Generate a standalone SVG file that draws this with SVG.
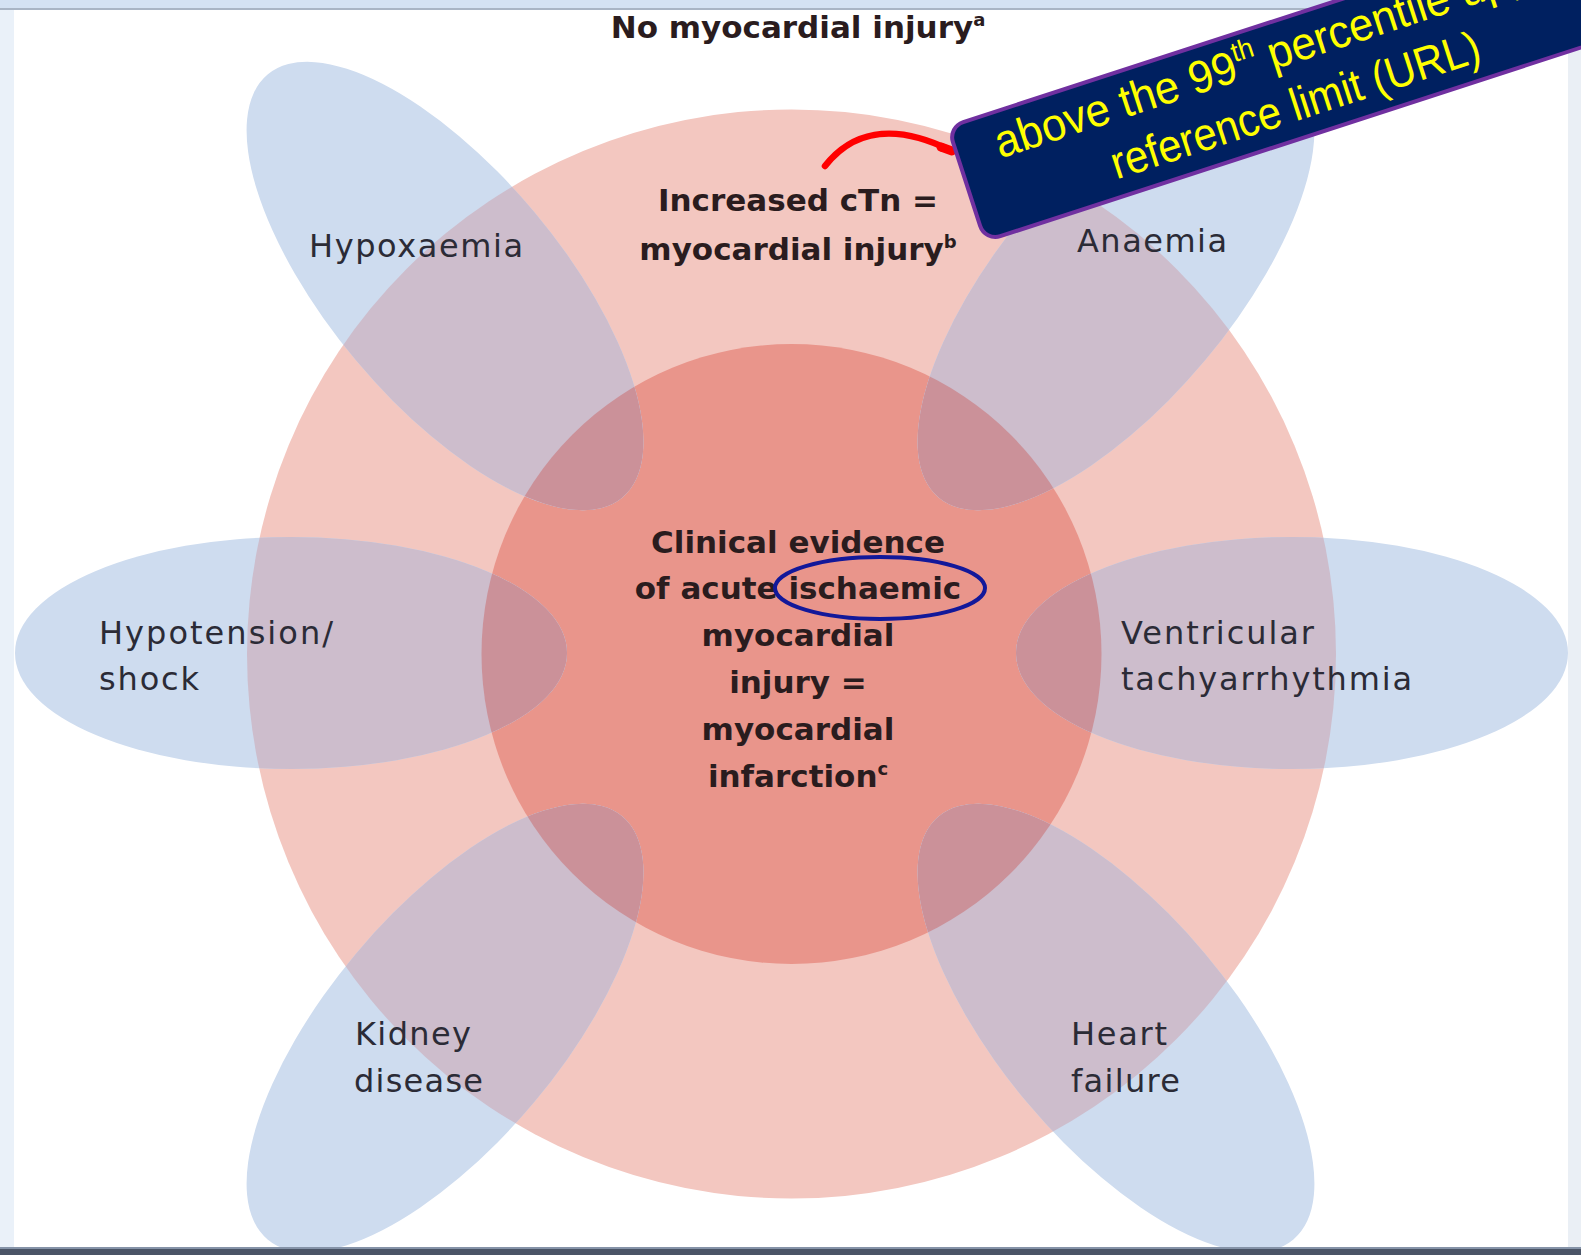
<svg xmlns="http://www.w3.org/2000/svg" xmlns:xlink="http://www.w3.org/1999/xlink" width="1581" height="1255" viewBox="0 0 1581 1255">
<style>
  .lbl{font-family:"DejaVu Sans","Liberation Sans",sans-serif;font-size:32px;fill:#2b2b36}
  .bold{font-family:"DejaVu Sans","Liberation Sans",sans-serif;font-weight:bold;font-size:31px;fill:#2a1c1e;text-anchor:middle}
  .sup{font-size:18px}
  .pB{fill:#cedcef}
  .pO{fill:#cdbdcc}
  .pI{fill:#cb9199}
  .call{font-family:"Liberation Sans","DejaVu Sans",sans-serif;font-size:46px;fill:#ffff00}
</style>
<defs>
  <ellipse id="pe" cx="0" cy="0" rx="276" ry="116"/>
  <clipPath id="clipOuter"><circle cx="791.5" cy="654" r="544.5"/></clipPath>
  <clipPath id="clipInner"><circle cx="791.5" cy="654" r="310"/></clipPath>
</defs>

<!-- page frame -->
<g id="frame">
  <rect x="0" y="0" width="1581" height="1255" fill="#ffffff"/>
  <rect x="0" y="0" width="14" height="1255" fill="#eaf1f9"/>
  <rect x="1568" y="0" width="13" height="1255" fill="#eaeff5"/>
  <rect x="0" y="0" width="1581" height="8" fill="#d4e2f3"/>
  <rect x="0" y="8" width="1581" height="2" fill="#a9b5c5"/>
</g>

<!-- circles -->
<g id="outer-circle">
  <circle cx="791.5" cy="654" r="544.5" fill="#f3c7c0"/>
  <text class="bold" x="798" y="211">Increased cTn =</text>
  <text class="bold" x="798" y="260">myocardial injury<tspan class="sup" dy="-12">b</tspan></text>
</g>
<g id="inner-circle">
  <circle cx="791.5" cy="654" r="310" fill="#e9958b"/>
</g>

<!-- petals -->
<g id="petal-hypoxaemia">
  <use xlink:href="#pe" href="#pe" class="pB" transform="translate(445,286) rotate(50)"/>
  <g clip-path="url(#clipOuter)"><use xlink:href="#pe" href="#pe" class="pO" transform="translate(445,286) rotate(50)"/></g>
  <g clip-path="url(#clipInner)"><use xlink:href="#pe" href="#pe" class="pI" transform="translate(445,286) rotate(50)"/></g>
  <text class="lbl" x="309" y="257" textLength="214">Hypoxaemia</text>
</g>
<g id="petal-anaemia">
  <use xlink:href="#pe" href="#pe" class="pB" transform="translate(1116,286) rotate(-50)"/>
  <g clip-path="url(#clipOuter)"><use xlink:href="#pe" href="#pe" class="pO" transform="translate(1116,286) rotate(-50)"/></g>
  <g clip-path="url(#clipInner)"><use xlink:href="#pe" href="#pe" class="pI" transform="translate(1116,286) rotate(-50)"/></g>
  <text class="lbl" x="1077" y="252" textLength="150">Anaemia</text>
</g>
<g id="petal-hypotension">
  <use xlink:href="#pe" href="#pe" class="pB" transform="translate(291,653)"/>
  <g clip-path="url(#clipOuter)"><use xlink:href="#pe" href="#pe" class="pO" transform="translate(291,653)"/></g>
  <g clip-path="url(#clipInner)"><use xlink:href="#pe" href="#pe" class="pI" transform="translate(291,653)"/></g>
  <text class="lbl" x="99" y="644" textLength="234">Hypotension/</text>
  <text class="lbl" x="99" y="690" textLength="100">shock</text>
</g>
<g id="petal-ventricular">
  <use xlink:href="#pe" href="#pe" class="pB" transform="translate(1292,653)"/>
  <g clip-path="url(#clipOuter)"><use xlink:href="#pe" href="#pe" class="pO" transform="translate(1292,653)"/></g>
  <g clip-path="url(#clipInner)"><use xlink:href="#pe" href="#pe" class="pI" transform="translate(1292,653)"/></g>
  <text class="lbl" x="1121" y="644" textLength="193">Ventricular</text>
  <text class="lbl" x="1121" y="690" textLength="291">tachyarrhythmia</text>
</g>
<g id="petal-kidney">
  <use xlink:href="#pe" href="#pe" class="pB" transform="translate(445,1028) rotate(-50)"/>
  <g clip-path="url(#clipOuter)"><use xlink:href="#pe" href="#pe" class="pO" transform="translate(445,1028) rotate(-50)"/></g>
  <g clip-path="url(#clipInner)"><use xlink:href="#pe" href="#pe" class="pI" transform="translate(445,1028) rotate(-50)"/></g>
  <text class="lbl" x="355" y="1045" textLength="116">Kidney</text>
  <text class="lbl" x="354" y="1092" textLength="129">disease</text>
</g>
<g id="petal-heart-failure">
  <use xlink:href="#pe" href="#pe" class="pB" transform="translate(1116,1028) rotate(50)"/>
  <g clip-path="url(#clipOuter)"><use xlink:href="#pe" href="#pe" class="pO" transform="translate(1116,1028) rotate(50)"/></g>
  <g clip-path="url(#clipInner)"><use xlink:href="#pe" href="#pe" class="pI" transform="translate(1116,1028) rotate(50)"/></g>
  <text class="lbl" x="1071" y="1045" textLength="96">Heart</text>
  <text class="lbl" x="1071" y="1092" textLength="109">failure</text>
</g>

<!-- bottom strip covers petal ends -->
<g id="frame-bottom">
  <rect x="0" y="1247" width="1581" height="8" fill="#4a5466"/>
  <rect x="0" y="1247" width="1581" height="2" fill="#8593a8"/>
</g>

<!-- centre text -->
<g id="centre-label">
  <text class="bold" x="798" y="553">Clinical evidence</text>
  <text class="bold" x="798" y="599">of acute ischaemic</text>
  <text class="bold" x="798" y="646">myocardial</text>
  <text class="bold" x="798" y="693">injury =</text>
  <text class="bold" x="798" y="740">myocardial</text>
  <text class="bold" x="798" y="787">infarction<tspan class="sup" dy="-12">c</tspan></text>
  <ellipse id="ischaemic-mark" cx="880" cy="588" rx="105" ry="31" fill="none" stroke="#12189a" stroke-width="4"/>
</g>

<g id="title">
  <text class="bold" x="798" y="38">No myocardial injury<tspan class="sup" dy="-12">a</tspan></text>
</g>

<!-- connectors -->
<g id="connectors">
  <path d="M825,166 C850,134 890,120 952,151" fill="none" stroke="#ff0000" stroke-width="6.5" stroke-linecap="round"/>
  <path d="M941,147 L952,151" fill="none" stroke="#ff0000" stroke-width="9" stroke-linecap="round"/>
</g>

<!-- callout -->
<g id="callout" transform="translate(948,127) rotate(-18)">
  <rect x="0" y="0" width="820" height="120" rx="16" fill="#002060" stroke="#7030a0" stroke-width="4"/>
  <text class="call" x="40" y="46" textLength="600" lengthAdjust="spacingAndGlyphs">above the 99<tspan font-size="28" dy="-19">th</tspan><tspan dy="19"> percentile upper</tspan></text>
  <text class="call" x="144" y="102" textLength="386" lengthAdjust="spacingAndGlyphs">reference limit (URL)</text>
</g>
</svg>
